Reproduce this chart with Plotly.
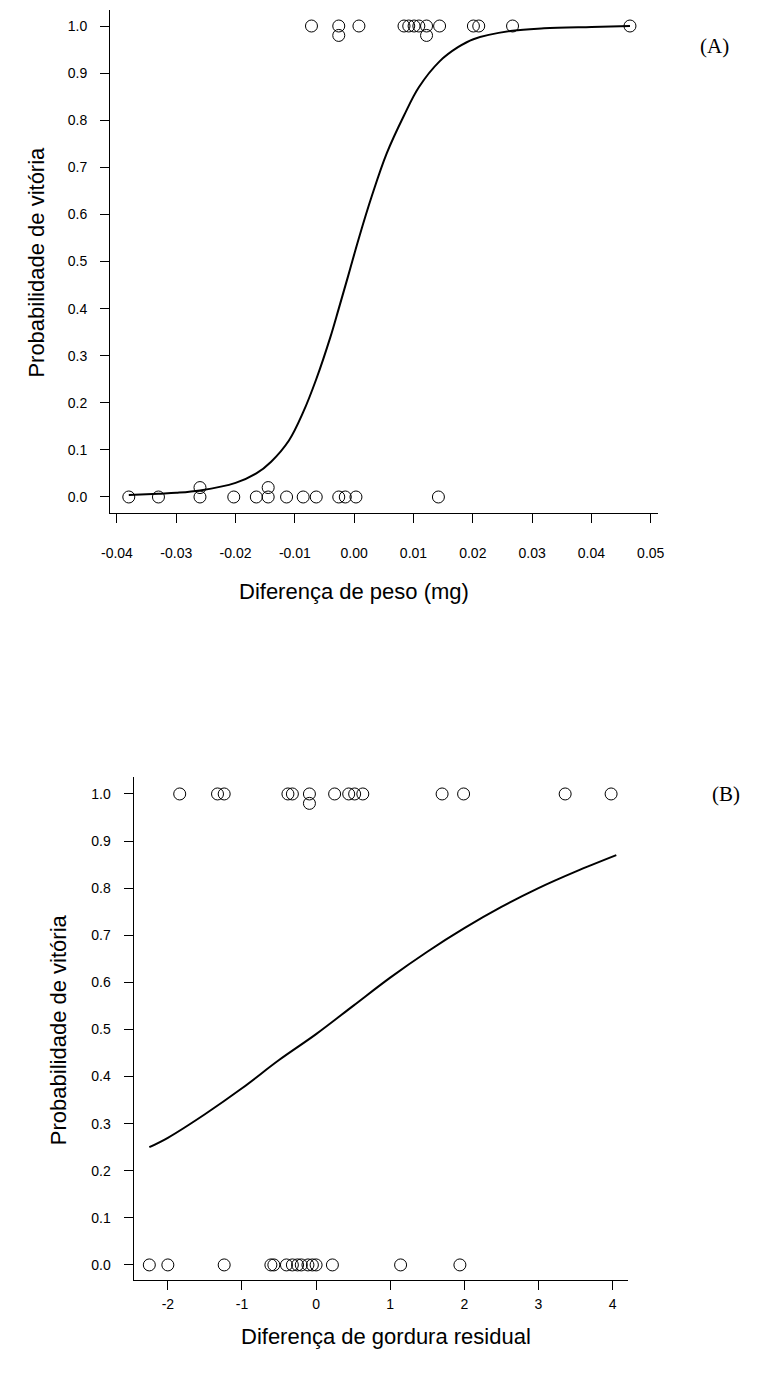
import plotly.graph_objects as go

W, H = 782, 1378

# ---- panel A: weight difference ----
a_obs_x = [-0.0072, -0.0026, -0.0026, 0.0008, 0.0084, 0.0092, 0.0101, 0.0109, 0.0122, 0.0122,
           0.0144, 0.0201, 0.0210, 0.0267, 0.0465,
           -0.038, -0.033, -0.026, -0.026, -0.0203, -0.0165, -0.0145, -0.0145, -0.0114,
           -0.0086, -0.0064, -0.0026, -0.0015, 0.0003, 0.0142]
a_obs_y = [1.0, 1.0, 0.98, 1.0, 1.0, 1.0, 1.0, 1.0, 1.0, 0.98,
           1.0, 1.0, 1.0, 1.0, 1.0,
           0.0, 0.0, 0.0, 0.02, 0.0, 0.0, 0.0, 0.02, 0.0,
           0.0, 0.0, 0.0, 0.0, 0.0, 0.0]
a_fit_x = [-0.038, -0.033, -0.03, -0.026, -0.02, -0.0165, -0.014, -0.011, -0.0086, -0.0064,
           -0.004, -0.0026, -0.001, 0.0008, 0.003, 0.0055, 0.0084, 0.0109, 0.0144, 0.0175,
           0.0201, 0.0267, 0.032, 0.04, 0.0465]
a_fit_y = [0.004, 0.007, 0.009, 0.014, 0.03, 0.05, 0.075, 0.12, 0.18, 0.25,
           0.34, 0.40, 0.47, 0.55, 0.64, 0.73, 0.81, 0.87, 0.925, 0.955,
           0.972, 0.99, 0.995, 0.998, 1.0]
a_xticks = [-0.04, -0.03, -0.02, -0.01, 0.0, 0.01, 0.02, 0.03, 0.04, 0.05]
a_xlabels = ['-0.04', '-0.03', '-0.02', '-0.01', '0.00', '0.01', '0.02', '0.03', '0.04', '0.05']

# ---- panel B: residual fat difference ----
b_obs_x = [-1.84, -1.33, -1.24, -0.38, -0.32, -0.09, -0.09, 0.25, 0.44, 0.52, 0.63, 1.70, 1.99, 3.36, 3.98,
           -2.25, -2.0, -1.24, -0.61, -0.57, -0.40, -0.32, -0.25, -0.20, -0.11, -0.05, 0.0, 0.22, 1.14, 1.94]
b_obs_y = [1.0, 1.0, 1.0, 1.0, 1.0, 1.0, 0.98, 1.0, 1.0, 1.0, 1.0, 1.0, 1.0, 1.0, 1.0,
           0.0, 0.0, 0.0, 0.0, 0.0, 0.0, 0.0, 0.0, 0.0, 0.0, 0.0, 0.0, 0.0, 0.0, 0.0]
b_fit_x = [-2.25, -2.0, -1.5, -1.0, -0.5, 0.0, 0.5, 1.0, 1.5, 2.0, 2.5, 3.0, 3.5, 4.05]
b_fit_y = [0.25, 0.27, 0.32, 0.375, 0.435, 0.49, 0.55, 0.61, 0.665, 0.715, 0.76, 0.80, 0.835, 0.87]
b_xticks = [-2, -1, 0, 1, 2, 3, 4]
b_xlabels = ['-2', '-1', '0', '1', '2', '3', '4']

y_ticks = [0.0, 0.1, 0.2, 0.3, 0.4, 0.5, 0.6, 0.7, 0.8, 0.9, 1.0]
y_labels = ['{:.1f}'.format(v) for v in y_ticks]

font = 'Liberation Sans, Arial, sans-serif'
marker = dict(symbol='circle-open', size=12, color='black', line=dict(width=1, color='black'))

fig = go.Figure()
fig.add_trace(go.Scatter(x=a_obs_x, y=a_obs_y, mode='markers', marker=marker, xaxis='x', yaxis='y'))
fig.add_trace(go.Scatter(x=a_fit_x, y=a_fit_y, mode='lines', line=dict(color='black', width=2, shape='spline'),
                         xaxis='x', yaxis='y'))
fig.add_trace(go.Scatter(x=b_obs_x, y=b_obs_y, mode='markers', marker=marker, xaxis='x2', yaxis='y2'))
fig.add_trace(go.Scatter(x=b_fit_x, y=b_fit_y, mode='lines', line=dict(color='black', width=2, shape='spline'),
                         xaxis='x2', yaxis='y2'))

# page body adds an 8px margin, so positions are shifted back by 8px
OFF = 8

def px(x):
    return (x - OFF) / W

def py(y):
    return 1 - (y - OFF) / H

ax = dict(showline=True, linecolor='black', linewidth=1, ticks='outside', ticklen=9, tickwidth=1,
          tickcolor='black', showgrid=False, zeroline=False, tickfont=dict(family=font, size=14, color='black'))

fig.update_layout(
    width=W, height=H, margin=dict(l=0, r=0, t=0, b=0),
    paper_bgcolor='white', plot_bgcolor='white', showlegend=False,
    xaxis=dict(ax, domain=[px(103), px(662)], range=[-0.04116, 0.05116], tickvals=a_xticks,
               ticktext=a_xlabels, anchor='y', ticklabelstandoff=18),
    yaxis=dict(ax, domain=[py(513), py(10)], range=[-0.034, 1.034], tickvals=y_ticks,
               ticktext=y_labels, anchor='x', ticklabelstandoff=10),
    xaxis2=dict(ax, domain=[px(127), px(632)], range=[-2.4625, 4.211], tickvals=b_xticks,
                ticktext=b_xlabels, anchor='y2', ticklabelstandoff=2),
    yaxis2=dict(ax, domain=[py(1280), py(777)], range=[-0.032, 1.036], tickvals=y_ticks,
                ticktext=y_labels, anchor='x2', ticklabelstandoff=10),
)

title_font = dict(family=font, size=22, color='black')
label_font = dict(family='Liberation Serif, Times New Roman, serif', size=21, color='black')

def note(text, x, y, fnt, angle=0):
    fig.add_annotation(text=text, x=px(x), y=py(y), xref='paper', yref='paper', xanchor='center',
                       yanchor='middle', textangle=angle, showarrow=False, font=fnt)

note('Probabilidade de vitória', 27, 262, title_font, -90)
note('Diferença de peso (mg)', 352, 592, title_font)
note('Probabilidade de vitória', 50, 1030, title_font, -90)
note('Diferença de gordura residual', 385, 1336, title_font)
note('(A)', 720, 46, label_font)
note('(B)', 732, 794, label_font)

fig.write_html('out.html')
